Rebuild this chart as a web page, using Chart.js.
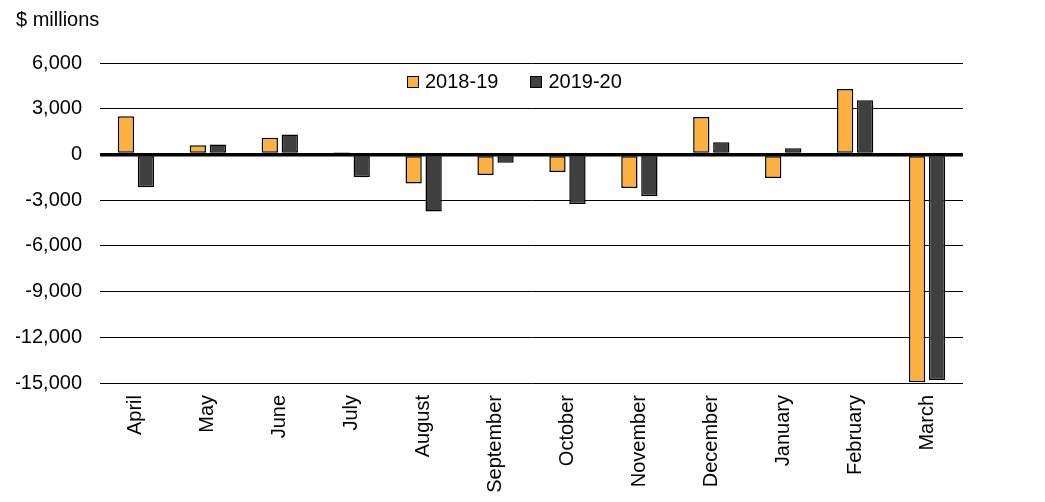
<!DOCTYPE html>
<html>
<head>
<meta charset="utf-8">
<title>Monthly budgetary balance</title>
<script src="https://cdn.jsdelivr.net/npm/chart.js@4/dist/chart.umd.min.js"></script>
<style>
    body { margin: 0; background: #fff; }
    #wrap { position: relative; width: 1045px; height: 502px; }
    #legend {
        position: absolute; left: 407px; top: 70px;
        font: 20px "Liberation Sans", Arial, sans-serif; color: #000;
        display: flex; align-items: center;
    }
    #legend .item { display: flex; align-items: center; margin-right: 32px; }
    #legend .box { width: 10px; height: 10px; border: 1px solid #000; margin-right: 6px; }
</style>
</head>
<body>
<div id="wrap">
    <canvas id="balanceChart"></canvas>
    <div id="legend"></div>
</div>
<script>
// mois de l'exercice financier
const months = ['April', 'May', 'June', 'July', 'August', 'September',
    'October', 'November', 'December', 'January', 'February', 'March'];

// solde mensuel, $ millions
const balance2018 = [2500, 600, 1100, 150, -1900, -1350, -1150, -2200, 2450, -1550, 4300, -14950];
const balance2019 = [-2150, 650, 1300, -1500, -3750, -550, -3250, -2750, 800, 400, 3550, -14800];

const seriesNames = ['2018-19', '2019-20'];
const yTicks = [-15000, -12000, -9000, -6000, -3000, 0, 3000, 6000];

const font = { family: '"Liberation Sans", Arial, sans-serif', size: 20, weight: 'normal' };
Chart.defaults.color = '#000';

document.addEventListener('DOMContentLoaded', function() {
    const balanceChart = new Chart(
        document.getElementById('balanceChart'),
        {
            type: 'bar',
            data: {
                labels: months,
                datasets: [
                    {
                        label: seriesNames[0],
                        data: balance2018,
                        backgroundColor: '#FBB040',
                        borderColor: '#000',
                        borderWidth: 1.5,
                        borderSkipped: false
                    },
                    {
                        label: seriesNames[1],
                        data: balance2019,
                        backgroundColor: '#404040',
                        borderColor: '#000',
                        borderWidth: 1.5,
                        borderSkipped: false
                    }
                ]
            },
            options: {
                responsive: true,
                maintainAspectRatio: false,
                animation: false,
                categoryPercentage: 0.556,
                barPercentage: 0.815,
                layout: { padding: { left: 16, right: 82, top: 0, bottom: 0 } },
                plugins: {
                    legend: { display: false },
                    tooltip: { enabled: false },
                    title: {
                        display: true,
                        text: '$ millions',
                        align: 'start',
                        font: font,
                        padding: { top: 8, bottom: 31 }
                    }
                },
                scales: {
                    x: {
                        grid: { display: false },
                        border: { display: false },
                        ticks: { font: font, minRotation: 90, maxRotation: 90, padding: 4 },
                        afterFit: function(scale) { scale.height = 119; }
                    },
                    y: {
                        min: yTicks[0],
                        max: yTicks[yTicks.length - 1],
                        border: { display: false },
                        grid: {
                            color: '#000',
                            drawTicks: false,
                            lineWidth: ctx => (ctx.tick && ctx.tick.value === 0 ? 3.5 : 1)
                        },
                        afterBuildTicks: function(scale) {
                            scale.ticks = yTicks.map(v => ({ value: v }));
                        },
                        ticks: {
                            font: font,
                            padding: 18,
                            callback: v => v.toLocaleString('en-US')
                        },
                        afterFit: function(scale) { scale.width = 84; }
                    }
                }
            }
        }
    );

    // légende dans la zone du graphique
    const legend = document.getElementById('legend');
    balanceChart.data.datasets.forEach(function(ds) {
        const item = document.createElement('div');
        item.className = 'item';
        const box = document.createElement('span');
        box.className = 'box';
        box.style.background = ds.backgroundColor;
        const text = document.createElement('span');
        text.textContent = ds.label;
        item.appendChild(box);
        item.appendChild(text);
        legend.appendChild(item);
    });
});
</script>
</body>
</html>
